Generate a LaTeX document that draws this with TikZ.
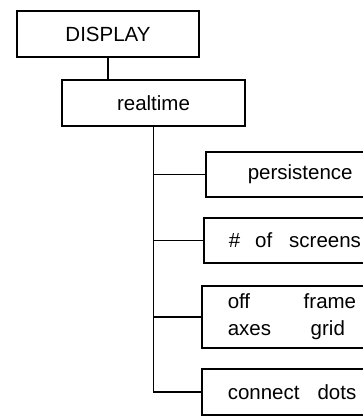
\documentclass[tikz,border=0pt]{standalone}
\usepackage{fontspec}
\setmainfont{Liberation Sans}
\begin{document}
\begin{tikzpicture}[x=1pt,y=-1pt,
  box/.style={draw, line width=1.5pt, rectangle, font=\fontsize{20.5}{27}\selectfont, inner sep=0pt},
  lbox/.style={box, anchor=west, inner xsep=#1, inner ysep=0pt, text width=150pt, align=left},
  link/.style={line width=1.5pt}]
\useasboundingbox (0,0) rectangle (363,417);
\clip (0,0) rectangle (363,417);
\node[box, minimum width=182pt, minimum height=46pt] (disp) at (108,34) {DISPLAY};
\node[box, minimum width=183pt, minimum height=46pt] (rt) at (153.5,103) {realtime};
\node[lbox=42pt, minimum height=45pt] (pers) at (205,174.5) {persistence};
\node[lbox=25pt, minimum height=45pt] (scr) at (203,240.5) {\#\hspace{15pt}of\hspace{17pt}screens};
\node[lbox=26pt, minimum height=62pt] (axes) at (201,317) {\makebox[76pt][l]{off}frame\\\makebox[83pt][l]{axes}grid};
\node[lbox=26pt, minimum height=46pt] (cd) at (201,392) {connect\hspace{18pt}dots};
\draw[link] (disp.south) -- (disp.south |- rt.north);
\draw[link] (rt.south) |- (cd.west);
\draw[link] (rt.south |- pers.west) -- (pers.west);
\draw[link] (rt.south |- scr.west) -- (scr.west);
\draw[link] (rt.south |- axes.west) -- (axes.west);
\end{tikzpicture}
\end{document}
